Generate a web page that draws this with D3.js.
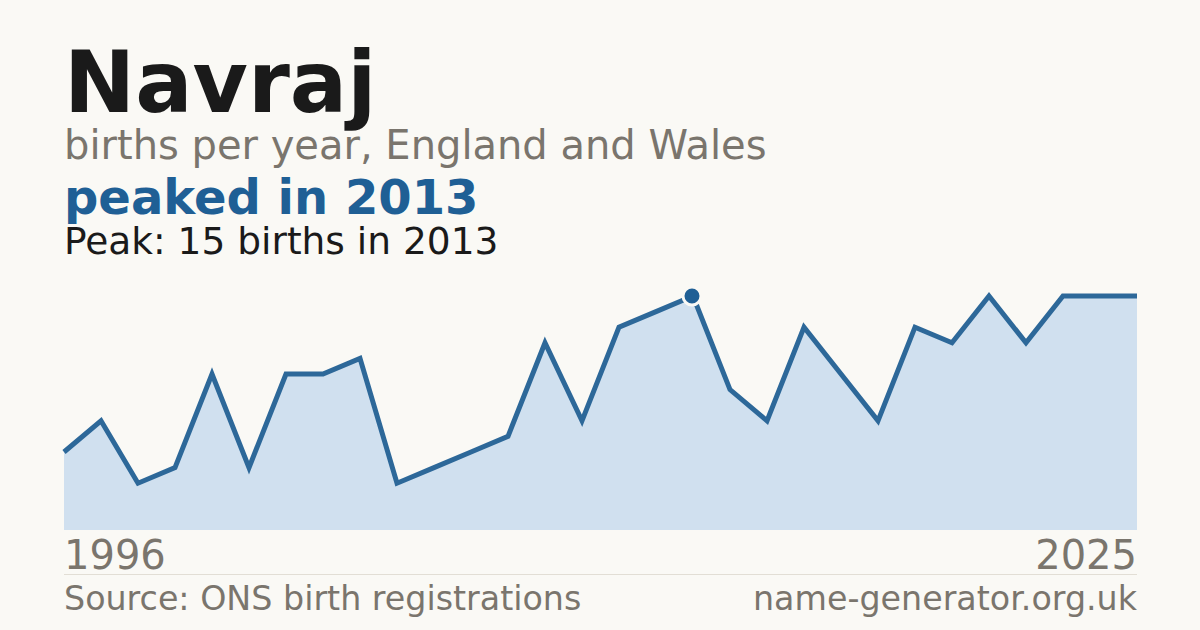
<html lang="en">
    <head>
        <meta charset="utf-8">
        <title>Navraj</title>
        <script type="text/javascript" src="https://d3js.org/d3.v7.min.js"></script>
        <style>
            body { margin: 0; background: #faf9f5; }
            text { font-family: "DejaVu Sans", sans-serif; }
        </style>
    </head>
    <body>
        <div id="chart"></div>
        <script type="text/javascript">
            // births per year
            const years = d3.range(1996, 2026);
            const births = [5, 7, 3, 4, 10, 4, 10, 10, 11, 3,
                            4, 5, 6, 12, 7, 13, 14, 15, 9, 7,
                            13, 10, 7, 13, 12, 15, 12, 15, 15, 15];
            const peakYear = 2013;
            const peakValue = 15;

            const width = 1200, height = 630;
            const margin = {'top': 296, 'bottom': 100, 'left': 64, 'right': 63};
            const svg = d3.select("#chart").append("svg").attr("width", width).attr("height", height);
            svg.append("rect").attr("width", width).attr("height", height).attr("fill", "#faf9f5");

            const xScale = d3.scaleLinear().domain([years[0], years[years.length - 1]]).range([margin.left, width - margin.right]);
            const yScale = d3.scaleLinear().domain([0, d3.max(births)]).range([height - margin.bottom, margin.top]);
            const data = years.map((y, i) => ({year: y, value: births[i]}));

            // 塗りつぶし
            const area = d3.area().x(d => xScale(d.year)).y0(yScale(0)).y1(d => yScale(d.value));
            svg.append("path").datum(data).attr("fill", "#d0e0ef").attr("d", area);
            const line = d3.line().x(d => xScale(d.year)).y(d => yScale(d.value));
            svg.append("path").datum(data).attr("fill", "none").attr("stroke", "#2d6899")
                .attr("stroke-width", 5).attr("stroke-linejoin", "miter").attr("d", line);

            // ピーク
            svg.append("circle").attr("cx", xScale(peakYear) - 1).attr("cy", yScale(peakValue)).attr("r", 9)
                .attr("fill", "#1f5f95").attr("stroke", "#faf9f5").attr("stroke-width", 3);

            // タイトル
            svg.append("text").attr("x", 64).attr("y", 112).attr("font-size", "85px").attr("font-weight", "bold")
                .attr("fill", "#1a1a1a").text("Navraj");
            svg.append("text").attr("x", 64).attr("y", 159).attr("font-size", "40px")
                .attr("fill", "#7a756d").text("births per year, England and Wales");
            svg.append("text").attr("x", 64).attr("y", 214).attr("font-size", "48px").attr("font-weight", "bold")
                .attr("fill", "#1f5f95").text("peaked in " + peakYear);
            svg.append("text").attr("x", 64).attr("y", 254).attr("font-size", "37.5px")
                .attr("fill", "#1a1a1a").text(`Peak: ${peakValue} births in ${peakYear}`);

            // 年ラベル
            svg.append("text").attr("x", xScale(years[0])).attr("y", 569).attr("font-size", "40px")
                .attr("fill", "#7a756d").text(years[0]);
            svg.append("text").attr("x", xScale(years[years.length - 1])).attr("y", 569).attr("font-size", "40px")
                .attr("text-anchor", "end").attr("fill", "#7a756d").text(years[years.length - 1]);
            svg.append("line").attr("x1", 64).attr("x2", width - margin.right).attr("y1", 574.5).attr("y2", 574.5)
                .attr("stroke", "#e2ded5").attr("stroke-width", 1);

            svg.append("text").attr("x", 64).attr("y", 610).attr("font-size", "33.3px")
                .attr("fill", "#7a756d").text("Source: ONS birth registrations");
            svg.append("text").attr("x", width - margin.right).attr("y", 610).attr("font-size", "33.3px")
                .attr("text-anchor", "end").attr("fill", "#7a756d").text("name-generator.org.uk");
        </script>
    </body>
</html>
